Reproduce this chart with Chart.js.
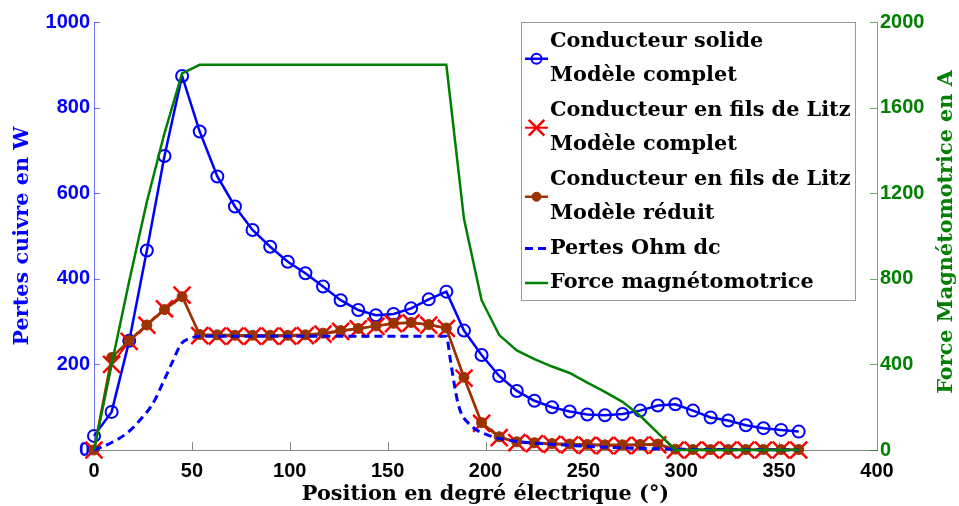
<!DOCTYPE html>
<html><head><meta charset="utf-8">
<script src="https://cdn.jsdelivr.net/npm/chart.js@4/dist/chart.umd.min.js"></script>
<style>html,body{margin:0;padding:0;background:#fff}#wrap{width:959px;height:506px;position:relative}</style>
</head><body><div id="wrap"><canvas id="c"></canvas></div>
<script>
// ---------- data ----------
const positions = [0,9,18,27,36,45,54,63,72,81,90,99,108,117,126,135,144,153,162,171,180,189,198,207,216,225,234,243,252,261,270,279,288,297,306,315,324,333,342,351,360];
const solideComplet = [33,89,255,466,687,874,744,639,569,514,475,440,413,382,350,327,315,318,331,352,370,279,222,173,138,115,100,90,83,81,84,92,104,107,92,76,69,58,51,47,43];
const litzComplet = [0,200,254,292,330,362,267,266,266,266,266,266,267,271,277,283,289,295,297,292,284,168,62,29,17,15,13,12,11,10,10,11,12,0,0,0,0,0,0,0,0];
const litzReduit = [0,216,256,292,328,358,270,269,268,268,268,268,269,273,279,284,290,296,298,293,285,170,64,31,19,17,15,14,13,12,12,13,14,2,1,1,1,1,1,1,1];
const ohmPositions = [0,8,17,23.5,30,35,40.5,44.5,49,56,180,182,184,186,188,191,195,200,205,210,220,235,250,270,297,320,360];
const ohmLoss = [0,15,40,70,108,155,210,248,261,266,266,212,155,108,82,64,48,37,29,24,18,13,9,5,2,1,0];
const forceMM = [0,400,790,1160,1480,1760,1800,1800,1800,1800,1800,1800,1800,1800,1800,1800,1800,1800,1800,1800,1800,1080,700,537,465,425,390,360,315,272,225,160,80,0,0,0,0,0,0,0,0];
const xRange = [0, 400, 50];
const lossRange = [0, 1000, 200];
const fmmRange = [0, 2000, 400];
const legendLabels = [
  ["Conducteur solide", "Modèle complet"],
  ["Conducteur en fils de Litz", "Modèle complet"],
  ["Conducteur en fils de Litz", "Modèle réduit"],
  ["Pertes Ohm dc"],
  ["Force magnétomotrice"]
];
const xTitle = "Position en degré électrique (°)";
const yTitle = "Pertes cuivre en W";
const y1Title = "Force Magnétomotrice en A";

// ---------- styles ----------
const SANS = '"Liberation Sans", Arial, Helvetica, sans-serif';
const SERIF = '"DejaVu Serif", serif';
function measure(text, size) {
  const c = document.createElement('canvas').getContext('2d');
  c.font = 'bold ' + size + 'px ' + SERIF;
  return c.measureText(text).width;
}
const serifSize = Math.round(20 * 300 / measure('Conducteur en fils de Litz', 20) * 10) / 10;
const serifFont = {family: SERIF, size: serifSize, weight: 'bold', lineHeight: 1};
const tickFont = {family: SANS, size: 20, weight: 'bold'};
const BLUE = '#0000ff', RED = '#ff0000', BROWN = '#993300', GREEN = '#008000';
const plain = v => String(v);

const pts = (xs, ys) => xs.map((x, i) => ({x: x, y: ys[i]}));

const datasets = [
  {label: legendLabels[0].join('\n'), data: pts(positions, solideComplet), yAxisID: 'y',
   borderColor: BLUE, borderWidth: 2.5, pointStyle: 'circle', pointRadius: 6, pointBorderWidth: 2,
   pointBorderColor: BLUE, pointBackgroundColor: 'rgba(0,0,0,0)', order: 4, clip: false,
   legendRadius: 5},
  {label: legendLabels[1].join('\n'), data: pts(positions, litzComplet), yAxisID: 'y',
   borderColor: RED, borderWidth: 2, pointStyle: 'crossRot', pointRadius: 12, pointBorderWidth: 2.5,
   pointBorderColor: RED, pointBackgroundColor: RED, order: 3, clip: false,
   legendRadius: 11},
  {label: legendLabels[2].join('\n'), data: pts(positions, litzReduit), yAxisID: 'y',
   borderColor: BROWN, borderWidth: 2.5, pointStyle: 'circle', pointRadius: 5, pointBorderWidth: 1,
   pointBorderColor: BROWN, pointBackgroundColor: BROWN, order: 2, clip: false,
   legendRadius: 4.5},
  {label: legendLabels[3].join('\n'), data: pts(ohmPositions, ohmLoss), yAxisID: 'y',
   borderColor: BLUE, borderWidth: 3, borderDash: [8, 5], pointRadius: 0,
   cubicInterpolationMode: 'monotone', order: 1, clip: false},
  {label: legendLabels[4].join('\n'), data: pts(positions, forceMM), yAxisID: 'y1',
   borderColor: GREEN, borderWidth: 2.5, pointRadius: 0, order: 0, clip: false}
];

// inward ticks
const inwardTicks = {
  id: 'inwardTicks',
  beforeDatasetsDraw(chart) {
    const {ctx, chartArea: a} = chart;
    const sx = chart.scales.x, sy = chart.scales.y, sy1 = chart.scales.y1;
    ctx.save();
    ctx.lineWidth = 1;
    ctx.strokeStyle = '#888';
    sx.ticks.forEach(t => { const p = Math.round(sx.getPixelForValue(t.value)) + 0.5;
      ctx.beginPath(); ctx.moveTo(p, a.bottom); ctx.lineTo(p, a.bottom - 8); ctx.stroke(); });
    ctx.strokeStyle = 'rgba(0,0,255,0.55)';
    sy.ticks.forEach(t => { const p = Math.round(sy.getPixelForValue(t.value)) + 0.5;
      ctx.beginPath(); ctx.moveTo(a.left, p); ctx.lineTo(a.left + 6, p); ctx.stroke(); });
    ctx.strokeStyle = 'rgba(0,128,0,0.6)';
    sy1.ticks.forEach(t => { const p = Math.round(sy1.getPixelForValue(t.value)) + 0.5;
      ctx.beginPath(); ctx.moveTo(a.right, p); ctx.lineTo(a.right - 7, p); ctx.stroke(); });
    ctx.restore();
  }
};

// right title (reads bottom-to-top) and multi-line legend
const extras = {
  id: 'extras',
  afterDraw(chart) {
    const {ctx, chartArea: a} = chart;
    ctx.save();
    ctx.font = 'bold ' + serifSize + 'px ' + SERIF;
    ctx.fillStyle = GREEN;
    ctx.translate(chart.width - 12, (a.top + a.bottom) / 2 - 4);
    ctx.rotate(-Math.PI / 2);
    ctx.textAlign = 'center'; ctx.textBaseline = 'middle';
    ctx.fillText(y1Title, 0, 0);
    ctx.restore();

    // legend
    const box = {l: 521, t: 22, r: 855, b: 300};
    const rowH = 34.5, firstRow = 41.5, symL = 525, symR = 548, textX = 550;
    ctx.save();
    ctx.fillStyle = '#fff';
    ctx.fillRect(box.l, box.t, box.r - box.l, box.b - box.t);
    ctx.strokeStyle = '#999'; ctx.lineWidth = 1;
    ctx.strokeRect(box.l + 0.5, box.t + 0.5, box.r - box.l, box.b - box.t);
    ctx.font = 'bold ' + serifSize + 'px ' + SERIF;
    ctx.textBaseline = 'middle'; ctx.textAlign = 'left';
    let row = 0;
    chart.data.datasets.forEach((ds) => {
      const lines = ds.label.split('\n');
      const yText = firstRow + row * rowH;
      const ySym = yText + (lines.length - 1) * rowH / 2;
      ctx.fillStyle = '#000';
      lines.forEach((ln, k) => ctx.fillText(ln, textX, yText + k * rowH));
      ctx.save();
      ctx.strokeStyle = ds.borderColor;
      ctx.lineWidth = ds.borderWidth;
      ctx.setLineDash(ds.borderDash || []);
      ctx.beginPath(); ctx.moveTo(symL, ySym); ctx.lineTo(symR, ySym); ctx.stroke();
      ctx.setLineDash([]);
      if (ds.pointRadius > 0) {
        ctx.strokeStyle = ds.pointBorderColor;
        ctx.fillStyle = ds.pointBackgroundColor;
        ctx.lineWidth = ds.pointBorderWidth;
        Chart.helpers.drawPoint(ctx, {
          pointStyle: ds.pointStyle, radius: ds.legendRadius,
          borderWidth: ds.pointBorderWidth, rotation: 0
        }, (symL + symR) / 2, ySym);
      }
      ctx.restore();
      row += lines.length;
    });
    ctx.restore();
  }
};

Chart.defaults.font.family = SANS;

new Chart(document.getElementById('c'), {
  type: 'line',
  data: {datasets: datasets},
  plugins: [inwardTicks, extras],
  options: {
    responsive: true, maintainAspectRatio: false, animation: false, events: [],
    layout: {padding: {top: 22, left: 0, right: 0, bottom: 0}},
    plugins: {legend: {display: false}, tooltip: {enabled: false}},
    scales: {
      x: {type: 'linear', position: 'bottom', min: xRange[0], max: xRange[1],
          ticks: {stepSize: xRange[2], color: '#000', font: tickFont, padding: 9, maxRotation: 0, callback: plain},
          grid: {display: false, drawTicks: false},
          border: {display: true, color: '#888', width: 1},
          title: {display: true, text: xTitle, color: '#000', font: serifFont, padding: {top: 0, bottom: 1}},
          afterFit(s) { s.height = 56; }},
      y: {type: 'linear', position: 'left', min: lossRange[0], max: lossRange[1],
          ticks: {stepSize: lossRange[2], color: BLUE, font: tickFont, padding: 4, callback: plain},
          grid: {display: false, drawTicks: false},
          border: {display: true, color: 'rgba(0,0,255,0.55)', width: 1},
          title: {display: true, text: yTitle, color: BLUE, font: serifFont, padding: {top: 12, bottom: 0}},
          afterFit(s) { s.width = 94; }},
      y1: {type: 'linear', position: 'right', min: fmmRange[0], max: fmmRange[1],
          ticks: {stepSize: fmmRange[2], color: GREEN, font: tickFont, padding: 3, callback: plain},
          grid: {display: false, drawTicks: false},
          border: {display: true, color: 'rgba(0,128,0,0.6)', width: 1},
          afterFit(s) { s.width = 82; }}
    }
  }
});
</script>
</body></html>
